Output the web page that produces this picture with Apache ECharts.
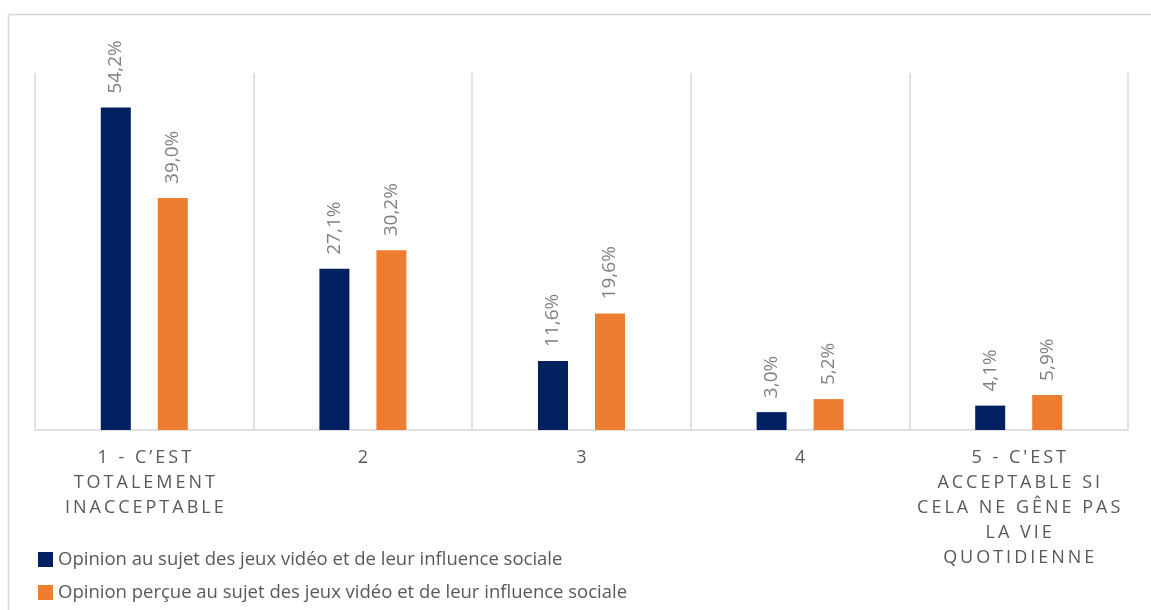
<!DOCTYPE html>
<html>
<head>
<meta charset="utf-8">
<script src="https://cdn.jsdelivr.net/npm/echarts@6/dist/echarts.min.js"></script>
<style>
  html, body { margin: 0; padding: 0; background: #fff; }
  #chart { width: 1151px; height: 610px; }
</style>
</head>
<body>
<div id="chart"></div>
<script>
// catégories (les sauts de ligne suivent l'original)
const categories = [
  "1 - C’EST\nTOTALEMENT\nINACCEPTABLE",
  "2",
  "3",
  "4",
  "5 - C'EST\nACCEPTABLE SI\nCELA NE GÊNE PAS\nLA VIE\nQUOTIDIENNE"
];
const seriesNames = [
  "Opinion au sujet des jeux vidéo et de leur influence sociale",
  "Opinion perçue au sujet des jeux vidéo et de leur influence sociale"
];
const opinion = [54.2, 27.1, 11.6, 3.0, 4.1];
const opinionPercue = [39.0, 30.2, 19.6, 5.2, 5.9];

const chart = echarts.init(document.getElementById("chart"));

// espacement des lettres façon Excel
function spaced(v) {
  return v.split("\n").map(l => l.split("").join("\u2009")).join("\n");
}

const labelOpt = {
  show: true,
  position: "top",
  rotate: 90,
  align: "left",
  verticalAlign: "middle",
  distance: 14,
  color: "#7f7f7f",
  fontFamily: "Open Sans",
  fontSize: 19,
  formatter: p => p.value.toFixed(1).replace(".", ",") + "%"
};

chart.setOption({
  animation: false,
  graphic: [{
    type: "rect",
    shape: { x: 8.5, y: 14.5, width: 1160, height: 620 },
    style: { fill: "none", stroke: "#d9d9d9", lineWidth: 1.5 },
    silent: true
  }],
  grid: { left: 35, right: 23, top: 73, bottom: 180 },
  legend: {
    orient: "vertical",
    left: 33,
    top: 545,
    itemWidth: 15,
    itemHeight: 15,
    itemGap: 14,
    icon: "rect",
    textStyle: { color: "#595959", fontFamily: "Open Sans", fontSize: 18.5 }
  },
  xAxis: {
    type: "category",
    data: categories,
    axisTick: { show: false },
    axisLine: { lineStyle: { color: "#d9d9d9", width: 1.5 } },
    splitLine: { show: true, lineStyle: { color: "#d9d9d9", width: 1.5 } },
    axisLabel: {
      interval: 0,
      margin: 15,
      color: "#595959",
      fontFamily: "Open Sans",
      fontSize: 18,
      lineHeight: 25,
      formatter: spaced
    }
  },
  yAxis: {
    type: "value",
    min: 0,
    max: 60,
    show: false,
    splitLine: { show: false }
  },
  series: [
    {
      name: seriesNames[0],
      type: "bar",
      data: opinion,
      barWidth: 30,
      barGap: "90%",
      itemStyle: { color: "#002060" },
      label: labelOpt
    },
    {
      name: seriesNames[1],
      type: "bar",
      data: opinionPercue,
      barWidth: 30,
      barGap: "90%",
      itemStyle: { color: "#ed7d31" },
      label: labelOpt
    }
  ]
});
</script>
</body>
</html>
